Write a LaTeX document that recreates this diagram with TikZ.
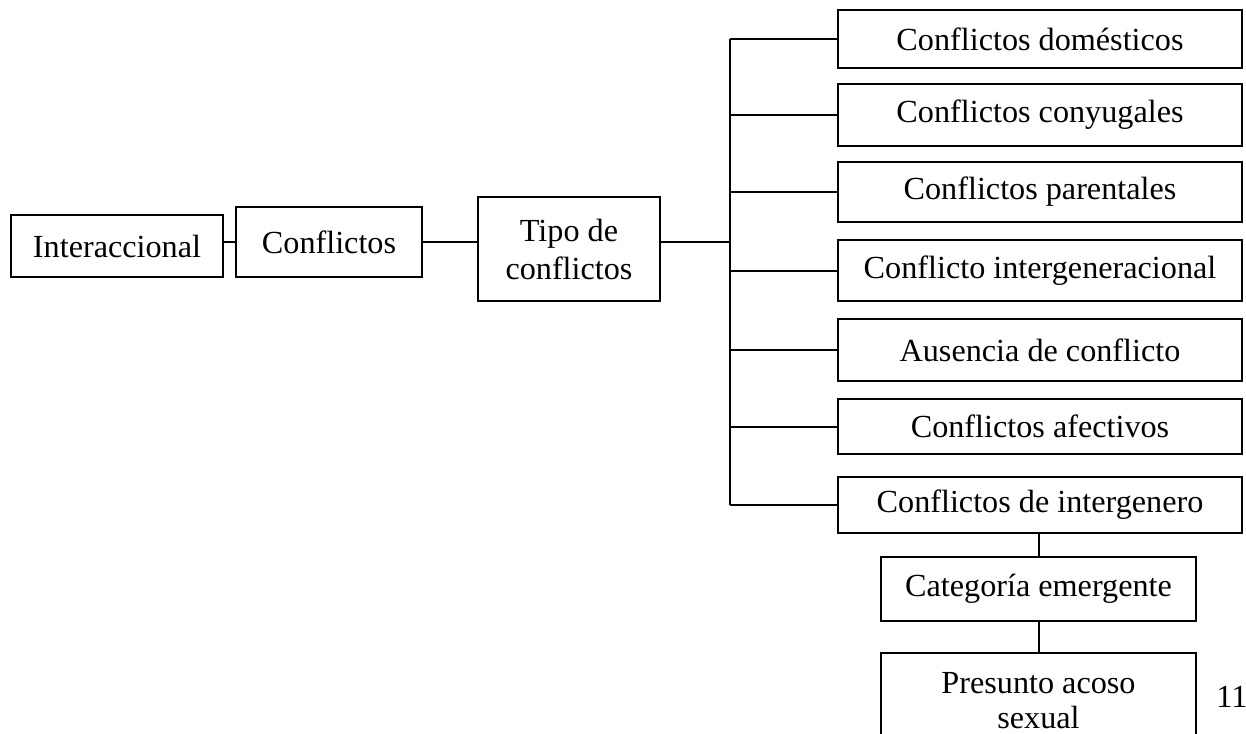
\documentclass[tikz,border=0pt]{standalone}
\usepackage{fontspec}
\setmainfont{Liberation Serif}
\begin{document}
\begin{tikzpicture}[x=0.5pt,y=-0.5pt,
  box/.style={draw, line width=1pt, inner sep=0pt, align=center,
    font=\fontsize{16.1}{19}\selectfont},
  wide/.style={box, minimum width=202pt},
  link/.style={line width=1pt}]
\useasboundingbox (0,0) rectangle (1246,733);
\clip (0,0) rectangle (1246,733);

% main chain
\node[box, minimum width=106pt, minimum height=31pt] (inter) at (117,246) {Interaccional};
\node[box, minimum width=93pt, minimum height=35pt] (conf) at (329,242) {Conflictos};
\node[box, minimum width=91pt, minimum height=52pt] (tipo) at (569,249) {Tipo de\\conflictos};

% conflict types
\node[wide, minimum height=29pt]   (b1) at (1040,39)    {Conflictos domésticos};
\node[wide, minimum height=31pt]   (b2) at (1040,115)   {Conflictos conyugales};
\node[wide, minimum height=30pt]   (b3) at (1040,192)   {Conflictos parentales};
\node[wide, minimum height=30.5pt] (b4) at (1040,270.5) {Conflicto intergeneracional};
\node[wide, minimum height=31pt]   (b5) at (1040,350)   {Ausencia de conflicto};
\node[wide, minimum height=27.5pt] (b6) at (1040,426.5) {Conflictos afectivos};
\node[wide, minimum height=28pt]   (b7) at (1040,505)   {Conflictos de intergenero};

% emergent category
\node[box, minimum width=157.5pt, minimum height=32pt] (cat) at (1038.5,589) {Categoría emergente};
\node[box, minimum width=157.5pt, minimum height=48pt,
      font=\fontsize{16.1}{17.5}\selectfont] (pres) at (1038.5,701) {Presunto acoso\\sexual};

% page number
\node[anchor=base west, inner sep=0pt, font=\fontsize{16.1}{19}\selectfont] (pg) at (1216,707) {117};

% connectors
\coordinate (trunk) at (730,242);
\draw[link] (inter.east |- conf.center) -- (conf.west);
\draw[link] (conf.east) -- (tipo.west |- conf.east);
\draw[link] (tipo.east |- conf.east) -- (trunk);
\draw[link] (trunk |- b1.west) -- (trunk |- b7.west);
\foreach \b in {b1,b2,b3,b4,b5,b6,b7}
  \draw[link] (trunk |- \b.west) -- (\b.west);
\draw[link] (b7.south -| cat.north) -- (cat.north);
\draw[link] (cat.south) -- (pres.north);
\end{tikzpicture}
\end{document}
